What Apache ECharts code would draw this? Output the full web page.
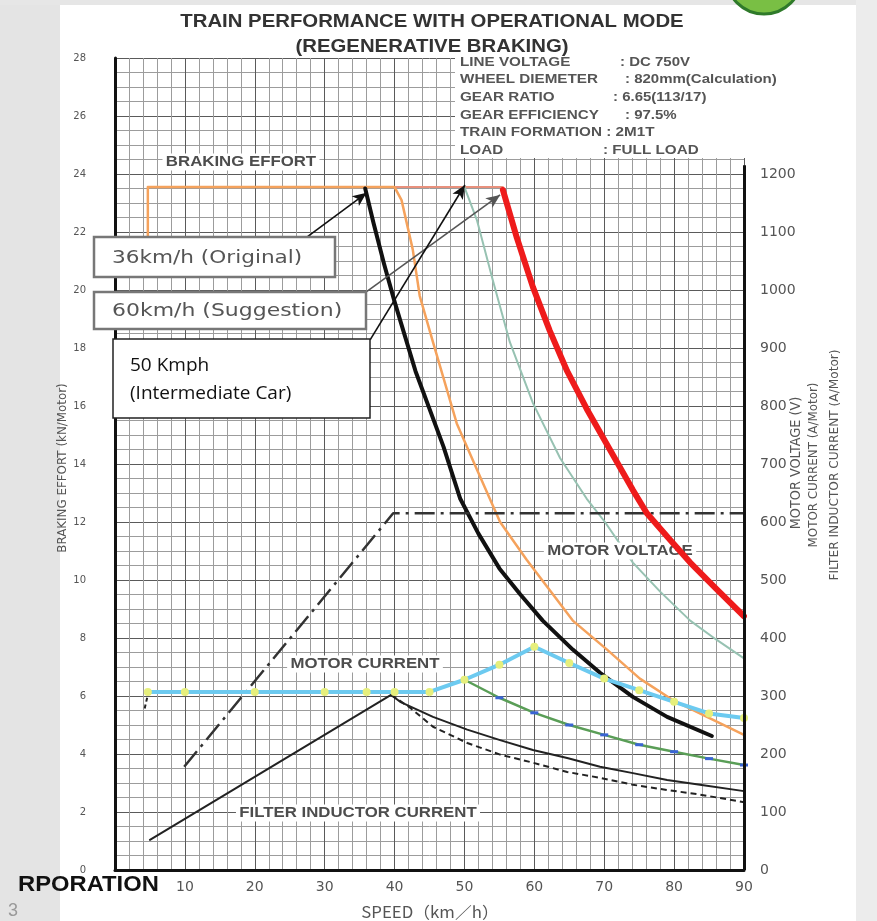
<!DOCTYPE html>
<html><head><meta charset="utf-8">
<script src="https://cdn.jsdelivr.net/npm/echarts@6/dist/echarts.min.js"></script>
<style>html,body{margin:0;padding:0;background:#fff}#c{width:877px;height:921px}</style>
</head><body><div id="c"></div>
<script>
// ---------------- DATA ----------------
// tick labels
const xTickLabels = ['', '10', '20', '30', '40', '50', '60', '70', '80', '90'];
const leftTickLabels = ['0','2','4','6','8','10','12','14','16','18','20','22','24','26','28'];
const rightTickLabels = ['0','100','200','300','400','500','600','700','800','900','1000','1100','1200','',''];

// Braking effort (kN/Motor) vs speed (km/h) — left axis
const brakeLimit = [[4.7, 23.55], [55.5, 23.55]];
const brakeOrange = [[4.7, 21.8], [4.7, 23.55], [40, 23.55], [41, 23.1], [42.6, 21.4], [43.6, 19.8], [45.5, 18.2], [48.9, 15.4], [51.8, 13.8], [55.1, 12.0], [58.9, 10.7], [65.5, 8.6], [70.4, 7.6], [75.1, 6.6], [79.8, 5.86], [84.7, 5.28], [90, 4.66]];
const brakeOriginal36 = [[35.8, 23.5], [37, 22.3], [38.5, 20.9], [40, 19.6], [41.5, 18.4], [43, 17.2], [45, 15.9], [47, 14.6], [49.4, 12.8], [52, 11.6], [55, 10.4], [58, 9.5], [61.2, 8.6], [65.5, 7.6], [69.4, 6.8], [74.1, 5.97], [79, 5.28], [85.4, 4.62]];
const brakeTeal50 = [[50, 23.55], [51.8, 22.4], [54.1, 20.3], [56.5, 18.2], [59.8, 16.1], [63.7, 14.2], [67.5, 12.8], [70.1, 12.0], [74.1, 10.6], [78, 9.6], [82.3, 8.6], [86, 7.95], [90, 7.3]];
const brakeRed60 = [[55.5, 23.45], [57.5, 21.8], [59.8, 20.1], [62.2, 18.6], [64.7, 17.2], [67.5, 15.9], [70.8, 14.5], [74.1, 13.1], [76.1, 12.3], [79, 11.5], [82.3, 10.6], [86, 9.7], [90, 8.75]];

// Right axis (V, A/Motor)
const motorVoltage = [[9.9, 178], [39.8, 615], [90, 615]];
const motorCurrent = [[4.7, 307], [10, 307], [20, 307], [30, 307], [36, 307], [40, 307], [45, 307], [50, 328], [55, 354], [60, 385], [65, 357], [70, 330], [75, 310], [80, 290], [85, 270], [90, 262]];
const motorCurrentLow = [[50, 328], [55, 297], [60, 271], [65, 250], [70, 233], [75, 216], [80, 204], [85, 192], [90, 181]];
const filterCurrent = [[5, 52], [39.5, 302], [40.8, 290], [45.5, 264], [50.4, 242], [55.1, 224], [59.8, 207], [64.7, 193], [69.4, 178], [74.1, 167], [79, 155], [83.7, 147], [90, 136]];
const filterCurrentLow = [[39.5, 302], [42.2, 280], [45.5, 247], [50.4, 219], [55.1, 199], [59.8, 185], [64.7, 169], [69.4, 159], [74.1, 147], [79, 138], [83.7, 130], [90, 117]];
const filterCurrentLowStart = [[4.6, 297], [4.2, 276]];

// annotation arrows (speed, kN) : [from, to]
const arrowOriginal = [[27.5, 21.83], [36.0, 23.35]];
const arrowSuggestion = [[35.9, 19.93], [55.1, 23.28]];
const arrowIntermediate = [[36.5, 18.28], [50.07, 23.62]];
const rightAxisTop = 1215;

// ---------------- CHART ----------------
const chart = echarts.init(document.getElementById('c'), null, {renderer: 'canvas'});

function txt(x, y, text, o) {
  o = o || {};
  const st = {
    text: text, x: 0, y: 0,
    fill: o.fill || '#4a4a4a',
    fontSize: o.size || 12,
    fontWeight: o.weight || 'normal',
    fontFamily: o.family || 'Liberation Sans',
    align: o.align || 'center', textAlign: o.align || 'center',
    verticalAlign: 'middle', textVerticalAlign: 'middle'
  };
  if (o.bg) { st.backgroundColor = o.bg; st.padding = o.pad || [1, 3]; }
  return {type: 'text', x: x, y: y, z: o.z == null ? 20 : o.z, rotation: o.rot || 0,
          scaleX: o.sx || 1, scaleY: 1, style: st, silent: true};
}
function rect(x, y, w, h, fill, stroke, lw, z) {
  return {type: 'rect', shape: {x: x, y: y, width: w, height: h}, z: z,
          style: {fill: fill, stroke: stroke || null, lineWidth: lw || 0}, silent: true};
}

const labelFont = {size: 15, weight: 'bold', fill: '#4d4d4d', sx: 1.12, bg: '#fff', z: 3};
const infoFont = {size: 12, weight: 'bold', align: 'left', sx: 1.27, fill: '#555'};
const infoVal = {size: 12, weight: 'bold', align: 'left', sx: 1.25, fill: '#555'};

const graphics = [
  // page background margins
  rect(0, 0, 60, 921, '#e4e4e4', null, 0, -5),
  rect(0, 0, 877, 5, '#e6e6e6', null, 0, -5),
  rect(856, 0, 21, 921, '#ececec', null, 0, -5),
  {type: 'circle', shape: {cx: 764, cy: -24, r: 38}, z: 1, silent: true,
   style: {fill: '#79bf44', stroke: '#2f7a2a', lineWidth: 3}},
  // title
  txt(432, 22, 'TRAIN PERFORMANCE WITH OPERATIONAL MODE', {size: 19, weight: 'bold', fill: '#333', sx: 1.07}),
  txt(432, 47, '(REGENERATIVE BRAKING)', {size: 19, weight: 'bold', fill: '#333', sx: 1.07}),
  // info block
  rect(455, 54, 300, 104, '#fff', null, 0, 1),
  txt(460, 63, 'LINE VOLTAGE', infoFont),
  txt(620, 63, ': DC 750V', infoVal),
  txt(460, 80, 'WHEEL DIEMETER', infoFont),
  txt(625, 80, ': 820mm(Calculation)', infoVal),
  txt(460, 98, 'GEAR RATIO', infoFont),
  txt(613, 98, ': 6.65(113/17)', infoVal),
  txt(460, 116, 'GEAR EFFICIENCY', infoFont),
  txt(625, 116, ': 97.5%', infoVal),
  txt(460, 133, 'TRAIN FORMATION : 2M1T', infoFont),
  txt(460, 151, 'LOAD', infoFont),
  txt(603, 151, ': FULL LOAD', infoFont),
  // curve labels
  txt(241, 162, 'BRAKING EFFORT', labelFont),
  txt(620, 551, 'MOTOR VOLTAGE', labelFont),
  txt(365, 664, 'MOTOR CURRENT', labelFont),
  txt(358, 813, 'FILTER INDUCTOR CURRENT', labelFont),
  // axis names
  txt(63, 468, 'BRAKING EFFORT (kN/Motor)', {size: 12.5, family: 'DejaVu Sans', rot: Math.PI / 2, fill: '#555', sx: 0.95}),
  txt(796, 463, 'MOTOR VOLTAGE (V)', {size: 13.5, family: 'DejaVu Sans', rot: Math.PI / 2, fill: '#555', sx: 0.95}),
  txt(814, 465, 'MOTOR CURRENT (A/Motor)', {size: 12.5, family: 'DejaVu Sans', rot: Math.PI / 2, fill: '#555', sx: 0.95}),
  txt(835, 465, 'FILTER INDUCTOR CURRENT (A/Motor)', {size: 12.8, family: 'DejaVu Sans', rot: Math.PI / 2, fill: '#555', sx: 0.95}),
  txt(430, 912, 'SPEED（km／h）', {size: 16, family: 'Noto Sans CJK JP', fill: '#555', sx: 1.05}),
  // corner text
  txt(18, 885, 'RPORATION', {size: 22, weight: 'bold', align: 'left', fill: '#111', sx: 1.08, z: 30}),
  txt(8, 911, '3', {size: 18, align: 'left', fill: '#999', z: 30}),
  // annotation boxes
  rect(94, 237, 241, 40, '#fff', '#777', 2.5, 10),
  txt(112, 258, '36km/h (Original)', {size: 18, family: 'DejaVu Sans', align: 'left', fill: '#555', sx: 1.2, z: 11}),
  rect(94, 292, 272, 37, '#fff', '#777', 2.5, 10),
  txt(112, 311, '60km/h (Suggestion)', {size: 18, family: 'DejaVu Sans', align: 'left', fill: '#555', sx: 1.22, z: 11}),
  rect(113, 339, 257, 79, '#fff', '#222', 1.5, 10),
  txt(130, 366, '50 Kmph', {size: 19, family: 'Open Sans', align: 'left', fill: '#111', z: 11}),
  txt(130, 394, '(Intermediate Car)', {size: 19, family: 'Open Sans', align: 'left', fill: '#111', z: 11})
];

function lineSeries(name, data, color, width, extra) {
  return Object.assign({
    name: name, type: 'line', data: data, xAxisIndex: 0, yAxisIndex: 0,
    showSymbol: false, symbol: 'none', smooth: false, silent: true, z: 2,
    lineStyle: {color: color, width: width, cap: 'round', join: 'round'},
    itemStyle: {color: color}
  }, extra || {});
}

const arrowLine = (a, color) => [
  {coord: a[0], symbol: 'none', lineStyle: {color: color, width: 1.6, type: 'solid'}},
  {coord: a[1], symbol: 'arrow', symbolSize: [9, 14]}
];

const option = {
  animation: false,
  backgroundColor: '#fff',
  grid: {left: 115, right: 133, top: 58, bottom: 51, containLabel: false},
  xAxis: {
    type: 'value', min: 0, max: 90, interval: 10,
    axisLine: {show: true, onZero: false, lineStyle: {color: '#111', width: 3}},
    axisTick: {show: false},
    axisLabel: {color: '#555', fontSize: 14, fontFamily: 'DejaVu Sans', margin: 10,
                formatter: v => xTickLabels[Math.round(v / 10)]},
    splitLine: {show: true, lineStyle: {color: '#5a5a5a', width: 1}},
    minorTick: {show: false, splitNumber: 5},
    minorSplitLine: {show: true, lineStyle: {color: '#9c9c9c', width: 1}}
  },
  yAxis: [{
    type: 'value', min: 0, max: 28, interval: 2, position: 'left',
    axisLine: {show: true, onZero: false, lineStyle: {color: '#111', width: 3}},
    axisTick: {show: false},
    axisLabel: {color: '#555', fontSize: 10, fontFamily: 'DejaVu Sans', margin: 29,
                formatter: v => leftTickLabels[Math.round(v / 2)]},
    splitLine: {show: true, lineStyle: {color: '#5a5a5a', width: 1}},
    minorTick: {show: false, splitNumber: 4},
    minorSplitLine: {show: true, lineStyle: {color: '#9c9c9c', width: 1}}
  }, {
    type: 'value', min: 0, max: 1400, interval: 100, position: 'right',
    axisLine: {show: false},
    axisTick: {show: false},
    axisLabel: {color: '#555', fontSize: 14, fontFamily: 'DejaVu Sans', margin: 16, align: 'left',
                formatter: v => rightTickLabels[Math.round(v / 100)]},
    splitLine: {show: false}
  }],
  series: [
    lineSeries('Braking effort limit', brakeLimit, '#e8907c', 2, {
      markLine: {silent: true, animation: false, label: {show: false}, symbol: ['none', 'arrow'],
        emphasis: {disabled: true},
        data: [arrowLine(arrowOriginal, '#111'), arrowLine(arrowSuggestion, '#555'), arrowLine(arrowIntermediate, '#111')]}
    }),
    lineSeries('Orange', brakeOrange, '#f5a25c', 2.5),
    lineSeries('50km/h', brakeTeal50, '#97c2b2', 2),
    lineSeries('36km/h', brakeOriginal36, '#111', 4),
    lineSeries('60km/h', brakeRed60, '#ee1b1b', 6, {z: 4}),
    lineSeries('Motor voltage', motorVoltage, '#333', 2.5, {
      yAxisIndex: 1,
      lineStyle: {color: '#333', width: 2.5, type: [20, 6, 3, 6]},
      markLine: {silent: true, animation: false, label: {show: false}, symbol: ['none', 'none'],
        emphasis: {disabled: true},
        lineStyle: {color: '#111', width: 3, type: 'solid'},
        data: [[{coord: [90, 0]}, {coord: [90, rightAxisTop]}]]}
    }),
    lineSeries('Filter inductor current', filterCurrent, '#222', 2, {yAxisIndex: 1}),
    lineSeries('Filter inductor current (low)', filterCurrentLow, '#222', 2,
      {yAxisIndex: 1, lineStyle: {color: '#222', width: 2, type: [6, 4]}}),
    lineSeries('Filter start', filterCurrentLowStart, '#222', 2,
      {yAxisIndex: 1, lineStyle: {color: '#222', width: 2, type: [4, 3]}}),
    lineSeries('Motor current (low)', motorCurrentLow.map((p, i) => i === 0 ? {value: p, symbol: 'none'} : {value: p}), '#5a9e57', 2.5, {
      yAxisIndex: 1, showSymbol: true, symbol: 'rect', symbolSize: [8, 3],
      itemStyle: {color: '#3a64d4'}
    }),
    lineSeries('Motor current', motorCurrent, '#6ccaf0', 4, {
      yAxisIndex: 1, showSymbol: true, symbol: 'circle', symbolSize: 8,
      itemStyle: {color: '#e6ef7c', borderWidth: 0}, z: 3
    })
  ],
  graphic: {elements: graphics}
};
chart.setOption(option);
</script></body></html>
